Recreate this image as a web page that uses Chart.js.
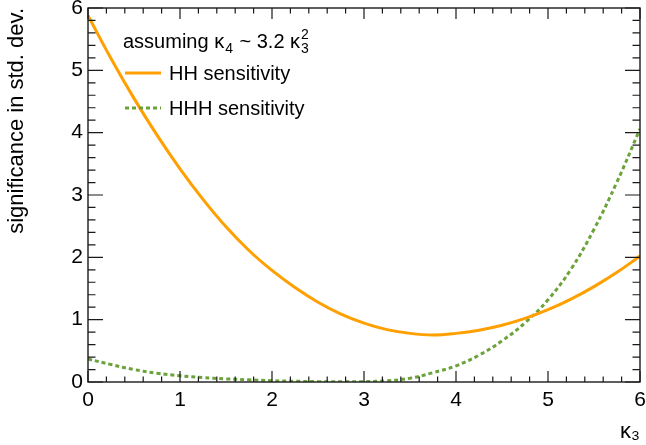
<!DOCTYPE html>
<html>
<head>
<meta charset="utf-8">
<script src="https://cdn.jsdelivr.net/npm/chart.js@4.4.1/dist/chart.umd.min.js"></script>
<style>
  html, body { margin: 0; padding: 0; background: #ffffff; }
  #wrap { width: 646px; height: 445px; }
</style>
</head>
<body>
<div id="wrap"><canvas id="c" width="646" height="445"></canvas></div>
<script>
// ---- data ----
const kappa3 = [0, 0.25, 0.5, 0.75, 1.0, 1.25, 1.5, 1.75, 2.0, 2.25, 2.5, 2.75, 3.0,
                3.25, 3.5, 3.75, 4.0, 4.25, 4.5, 4.75, 5.0, 5.25, 5.5, 5.75, 6.0];
const hhSensitivity = [5.88, 5.19, 4.55, 3.96, 3.42, 2.93, 2.49, 2.11, 1.79, 1.515, 1.28, 1.09, 0.945,
                       0.84, 0.78, 0.755, 0.78, 0.83, 0.91, 1.02, 1.16, 1.33, 1.53, 1.76, 2.02];
const hhhSensitivity = [0.37, 0.28, 0.20, 0.14, 0.10, 0.07, 0.05, 0.035, 0.02, 0.012, 0.006, 0.003, 0.006,
                        0.02, 0.06, 0.15, 0.26, 0.43, 0.66, 0.95, 1.32, 1.81, 2.45, 3.21, 4.06];
const xTickValues = [0, 1, 2, 3, 4, 5, 6];
const yTickValues = [0, 1, 2, 3, 4, 5, 6];
const seriesNames = ['HH sensitivity', 'HHH sensitivity'];
const xTitle = 'κ₃';
const yTitle = 'significance in std. dev.';

const ORANGE = '#ffa000';
const GREEN = '#6ba33b';
const FONT = '"Liberation Sans", Arial, Helvetica, sans-serif';

function toPoints(xs, ys) { return xs.map((x, i) => ({ x: x, y: ys[i] })); }

const framePlugin = {
  id: 'rootFrame',
  afterDatasetsDraw(chart) {
    const ctx = chart.ctx;
    const a = chart.chartArea;
    const xs = chart.scales.x, ys = chart.scales.y;
    ctx.save();
    ctx.strokeStyle = '#1a1a1a';
    ctx.lineWidth = 1.4;
    ctx.strokeRect(a.left, a.top, a.right - a.left, a.bottom - a.top);
    ctx.lineWidth = 1.2;
    ctx.beginPath();
    for (let i = 0; i <= 30; i++) {
      const v = i * 0.2;
      const px = xs.getPixelForValue(v);
      const len = (i % 5 === 0) ? 11 : 5.5;
      ctx.moveTo(px, a.bottom); ctx.lineTo(px, a.bottom - len);
      ctx.moveTo(px, a.top); ctx.lineTo(px, a.top + len);
    }
    for (let i = 0; i <= 30; i++) {
      const v = i * 0.2;
      const py = ys.getPixelForValue(v);
      const len = (i % 5 === 0) ? 15 : 7.5;
      ctx.moveTo(a.left, py); ctx.lineTo(a.left + len, py);
      ctx.moveTo(a.right, py); ctx.lineTo(a.right - len, py);
    }
    ctx.stroke();

    // legend / annotation
    ctx.fillStyle = '#000';
    ctx.textBaseline = 'alphabetic';
    ctx.textAlign = 'left';
    const big = '20px ' + FONT, small = '14px ' + FONT;
    let x = 123, base = 48;
    ctx.font = big;
    let t = 'assuming κ';
    ctx.fillText(t, x, base); x += ctx.measureText(t).width;
    ctx.font = small;
    ctx.fillText('4', x + 1, base + 5); x += ctx.measureText('4').width + 2;
    ctx.font = big;
    t = ' ~ 3.2 κ';
    ctx.fillText(t, x, base); x += ctx.measureText(t).width;
    ctx.font = small;
    ctx.fillText('2', x + 1, base - 9);
    ctx.fillText('3', x + 1, base + 5);

    const entries = [
      { y: 73, color: ORANGE, dash: [] },
      { y: 108, color: GREEN, dash: [4, 3] }
    ];
    entries.forEach((e, i) => {
      ctx.save();
      ctx.strokeStyle = e.color;
      ctx.lineWidth = 3;
      ctx.setLineDash(e.dash);
      ctx.beginPath();
      ctx.moveTo(125, e.y); ctx.lineTo(161, e.y);
      ctx.stroke();
      ctx.restore();
      ctx.font = big;
      ctx.textBaseline = 'middle';
      ctx.fillText(seriesNames[i], 169, e.y + 1);
    });
    ctx.restore();
  }
};

new Chart(document.getElementById('c'), {
  type: 'line',
  data: {
    datasets: [
      {
        label: seriesNames[0],
        data: toPoints(kappa3, hhSensitivity),
        borderColor: ORANGE,
        borderWidth: 3,
        pointRadius: 0,
        tension: 0.4,
        fill: false
      },
      {
        label: seriesNames[1],
        data: toPoints(kappa3, hhhSensitivity),
        borderColor: GREEN,
        borderWidth: 3,
        borderDash: [4, 3],
        pointRadius: 0,
        tension: 0.4,
        fill: false
      }
    ]
  },
  options: {
    responsive: false,
    animation: false,
    devicePixelRatio: 1,
    layout: { padding: { top: 8, right: 6, left: 0, bottom: 0 } },
    plugins: {
      legend: { display: false },
      tooltip: { enabled: false }
    },
    scales: {
      x: {
        type: 'linear',
        min: 0, max: 6,
        afterBuildTicks(scale) { scale.ticks = xTickValues.map(v => ({ value: v })); },
        afterFit(scale) { scale.height = 63; scale.paddingLeft = 0; scale.paddingRight = 0; },
        grid: { display: false, drawTicks: false },
        border: { display: false },
        ticks: {
          color: '#000',
          font: { family: FONT, size: 21 },
          padding: 6,
          maxRotation: 0,
          autoSkip: false
        },
        title: {
          display: true,
          text: xTitle,
          align: 'end',
          color: '#000',
          font: { family: FONT, size: 22 },
          padding: { top: 0, bottom: 0 }
        }
      },
      y: {
        type: 'linear',
        min: 0, max: 6,
        afterBuildTicks(scale) { scale.ticks = yTickValues.map(v => ({ value: v })); },
        afterFit(scale) { scale.width = 88; scale.paddingTop = 0; scale.paddingBottom = 0; },
        grid: { display: false, drawTicks: false },
        border: { display: false },
        ticks: {
          color: '#000',
          font: { family: FONT, size: 21 },
          padding: 5,
          autoSkip: false
        },
        title: {
          display: true,
          text: yTitle,
          align: 'end',
          color: '#000',
          font: { family: FONT, size: 22 },
          padding: { top: 4, bottom: 0 }
        }
      }
    }
  },
  plugins: [framePlugin]
});
</script>
</body>
</html>
